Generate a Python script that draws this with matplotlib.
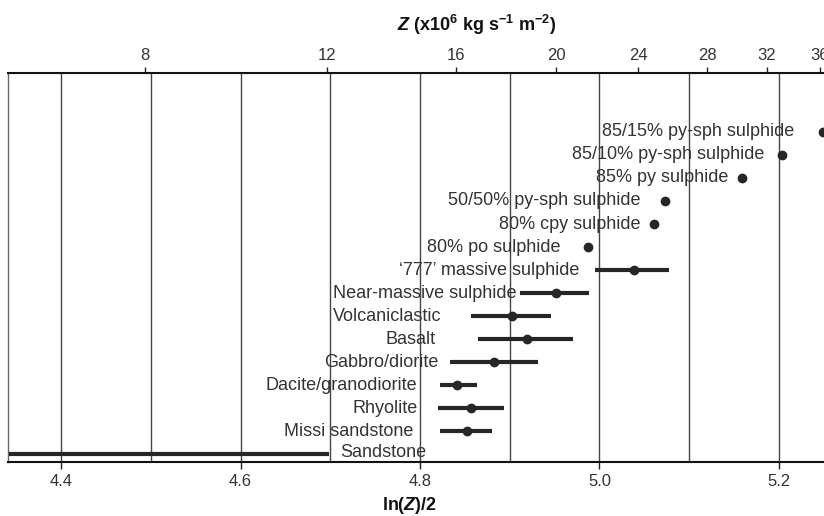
import numpy as np
import matplotlib
matplotlib.use('Agg')
import matplotlib.pyplot as plt

plt.rcParams['font.family'] = ['Liberation Sans', 'DejaVu Sans']
plt.rcParams['mathtext.fontset'] = 'custom'
plt.rcParams['mathtext.rm'] = 'Liberation Sans:bold'
plt.rcParams['mathtext.it'] = 'Liberation Sans:bold:italic'
plt.rcParams['mathtext.bf'] = 'Liberation Sans:bold'

# rock / ore types, top to bottom
rocks = ["85/15% py-sph sulphide", "85/10% py-sph sulphide", "85% py sulphide",
         "50/50% py-sph sulphide", "80% cpy sulphide", "80% po sulphide",
         "\u2018777\u2019 massive sulphide", "Near-massive sulphide", "Volcaniclastic",
         "Basalt", "Gabbro/diorite", "Dacite/granodiorite", "Rhyolite",
         "Missi sandstone", "Sandstone"]
# ln(Z)/2 mean and range (nan = not shown)
mean_val = [5.249, 5.203, 5.159, 5.073, 5.061, 4.987, 5.038, 4.952, 4.903,
            4.919, 4.883, 4.841, 4.857, 4.852, np.nan]
low_val = [np.nan, np.nan, np.nan, np.nan, np.nan, np.nan, 4.995, 4.912, 4.857,
           4.865, 4.833, 4.822, 4.820, 4.822, 4.342]
high_val = [np.nan, np.nan, np.nan, np.nan, np.nan, np.nan, 5.078, 4.988, 4.946,
            4.970, 4.932, 4.863, 4.894, 4.880, 4.699]
z_ticks = [8, 12, 16, 20, 24, 28, 32, 36]
grid_pos = [4.4, 4.5, 4.6, 4.7, 4.8, 4.9, 5.0, 5.1, 5.2]

# label gap (pixels) left of each mark's left end
label_gap = [29, 17.6, 14, 24.3, 13.3, 27.7, 15.3, 4, 29.7, 42.3, 11.6, 22.3,
             20.3, 26.7, -417.7]

fig = plt.figure(figsize=(8.24, 5.16), dpi=100)
ax = fig.add_axes([8 / 824, 54 / 516, 818 / 824, 389 / 516])

n = len(rocks)
ys = np.arange(n, 0, -1)
ink = '#262626'
txt = '#333333'

for g in grid_pos:
    ax.axvline(g, color='#444444', lw=1.0, zorder=1)

for y, lo, hi in zip(ys, low_val, high_val):
    if not np.isnan(lo):
        ax.plot([lo, hi], [y, y], color=ink, lw=3.0, solid_capstyle='butt',
                zorder=3)
ax.plot(mean_val, ys, 'o', color=ink, ms=6, zorder=4, clip_on=False)

for i, (name, y) in enumerate(zip(rocks, ys)):
    left = low_val[i] if not np.isnan(low_val[i]) else mean_val[i]
    dy = 2 if i == n - 1 else 0
    ax.annotate(name, xy=(left, y), xytext=(-label_gap[i], dy),
                textcoords='offset pixels', ha='right', va='center',
                fontsize=13, color=txt, zorder=5)

ax.set_xlim(4.3408, 5.2525)
ax.set_ylim(1 - 7.5 / 23, n + 58.7 / 23)
ax.set_yticks([])
ax.set_xticks([4.4, 4.6, 4.8, 5.0, 5.2])
ax.set_xticklabels(['4.4', '4.6', '4.8', '5.0', '5.2'])
ax.tick_params(axis='x', which='major', direction='out', length=5, width=1,
               labelsize=12, colors='#222222', labelcolor=txt, pad=4)
for s in ['top', 'bottom']:
    ax.spines[s].set_linewidth(1.5)
    ax.spines[s].set_color('#111111')
    ax.spines[s].set_zorder(6)
ax.spines['left'].set_color('#666666')
ax.spines['left'].set_linewidth(1.0)
ax.spines['right'].set_visible(False)

top = ax.secondary_xaxis('top', functions=(lambda x: np.exp(2 * x) / 1000,
                                           lambda z: np.log(np.clip(z, 1e-9, None) * 1000) / 2))
top.set_xticks(z_ticks)
top.set_xticklabels([str(z) for z in z_ticks])
top.tick_params(axis='x', direction='out', length=4, width=1, labelsize=12,
                colors='#222222', labelcolor=txt, pad=3)
top.spines['top'].set_visible(False)

fig.text(410 / 824, 1 - 506 / 516, r'ln($Z$)/2', ha='center', va='center',
         fontsize=13, fontweight='bold', color='#111111')
fig.text(477 / 824, 1 - 25 / 516, r'$Z$ (x10$^{6}$ kg s$^{-1}$ m$^{-2}$)',
         ha='center', va='center', fontsize=13, fontweight='bold',
         color='#111111')

fig.savefig('out.png', dpi=100)
